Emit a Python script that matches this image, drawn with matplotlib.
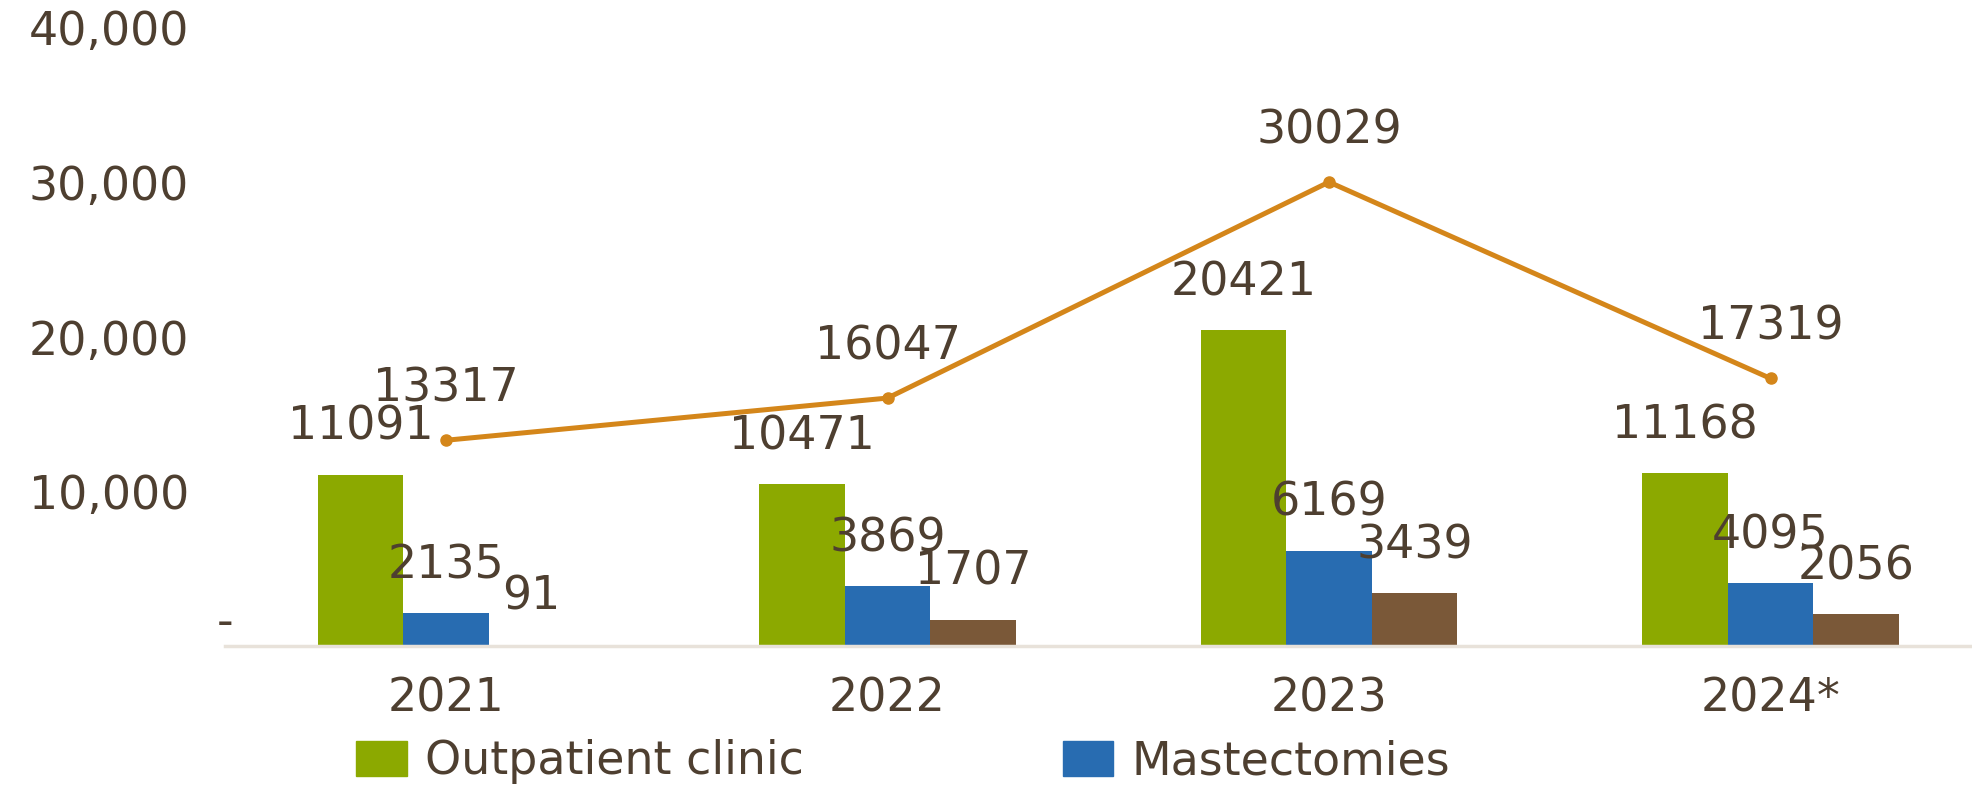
import matplotlib
matplotlib.use("Agg")
import matplotlib.pyplot as plt
from matplotlib.patches import Patch
import numpy as np

categories = ["2021", "2022", "2023", "2024*"]
outpatient = [11091, 10471, 20421, 11168]
mastectomies = [2135, 3869, 6169, 4095]
third_series = [91, 1707, 3439, 2056]
line_series = [13317, 16047, 30029, 17319]
y_ticks = [0, 10000, 20000, 30000, 40000]

C_GREEN = "#8CA900"
C_BLUE = "#286CB1"
C_BROWN = "#7A5838"
C_ORANGE = "#D4861A"
C_TEXT = "#4E3F30"
C_AXIS = "#E8E2DA"

plt.rcParams['font.family'] = ['DejaVu Sans']

W, H = 1972, 794
fig = plt.figure(figsize=(W / 100, H / 100), dpi=100)

# axes geometry in pixels
x0_px = 446.0
unit_px = 441.5
left_px = x0_px - 0.5 * unit_px
base_px = 646.0
y_unit_px = 154.5  # per 10,000
top_px = base_px - 4 * y_unit_px
ax = fig.add_axes([left_px / W, (H - base_px) / H, (W - left_px) / W, (base_px - top_px) / H])
ax.set_xlim(-0.5, (W - x0_px) / unit_px)
ax.set_ylim(0, 40000)

x = np.arange(len(categories))
bw = 0.1935
fs = 33

b1 = ax.bar(x - bw, outpatient, bw, color=C_GREEN, zorder=2)
b2 = ax.bar(x, mastectomies, bw, color=C_BLUE, zorder=2)
b3 = ax.bar(x + bw, third_series, bw, color=C_BROWN, zorder=2)
ax.plot(x, line_series, color=C_ORANGE, lw=3.6, marker='o', ms=8, zorder=3, clip_on=False)

def lab(xs, vals, off):
    for xi, v in zip(xs, vals):
        ax.annotate(str(v), (xi, v), xytext=(0, off), textcoords='offset points',
                    ha='center', va='center', fontsize=fs, color=C_TEXT, zorder=4,
                    annotation_clip=False)

lab(x - bw, outpatient, 34)
lab(x, mastectomies, 34)
lab(x + bw, third_series, 34)
lab(x, line_series, 37)

for s in ['top', 'right', 'left']:
    ax.spines[s].set_visible(False)
ax.spines['bottom'].set_color(C_AXIS)
ax.spines['bottom'].set_linewidth(2.5)

ax.set_yticks(y_ticks)
ax.set_yticklabels([''] + [f"{v:,}" for v in y_ticks[1:]])
ax.tick_params(axis='y', length=0, pad=26, labelsize=fs, labelcolor=C_TEXT)
ax.set_xticks(x)
ax.set_xticklabels(categories)
ax.tick_params(axis='x', length=0, pad=22, labelsize=fs, labelcolor=C_TEXT)
ax.text(-0.5, 0, "-", ha='center', va='bottom', fontsize=fs, color=C_TEXT)

handles = [Patch(color=C_GREEN), Patch(color=C_BLUE)]
fig.legend(handles, ["Outpatient clinic", "Mastectomies"], ncol=2, frameon=False,
           loc='center left', bbox_to_anchor=(338 / W, (H - 762) / H),
           fontsize=fs, labelcolor=C_TEXT, handlelength=1.1, handleheight=0.8,
           handletextpad=0.4, columnspacing=5.65, borderaxespad=0)

fig.savefig("out.png", dpi=100, facecolor='white')
